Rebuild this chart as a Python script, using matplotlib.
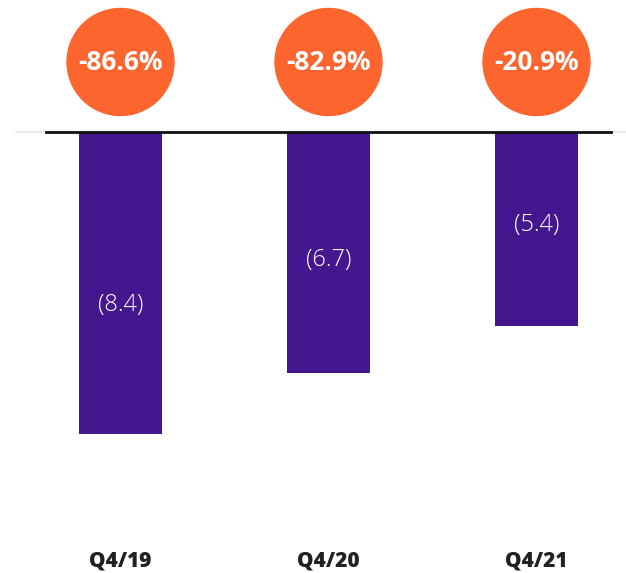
import matplotlib
matplotlib.use("Agg")
import matplotlib.pyplot as plt
from matplotlib.patches import Ellipse

categories = ["Q4/19", "Q4/20", "Q4/21"]
values = [-8.4, -6.7, -5.4]
value_labels = ["(8.4)", "(6.7)", "(5.4)"]
changes = ["-86.6%", "-82.9%", "-20.9%"]
label_y = [-4.8, -3.55, -2.58]

BAR_COLOR = "#45178F"
BADGE_COLOR = "#FC652E"

W, H = 626, 573
fig = plt.figure(figsize=(W / 100, H / 100), dpi=100)
ax = fig.add_axes([0, 0, 1, 1])

# pixel-derived scale: 208 px per category, 36 px per unit
px_x, px_y = 208.0, 36.0
x0_px, y0_px = 120.5, 132.0
ax.set_xlim(-x0_px / px_x, (W - x0_px) / px_x)
ax.set_ylim(-(H - y0_px) / px_y, y0_px / px_y)
ax.axis("off")

x = list(range(len(categories)))
ax.bar(x, values, width=83 / px_x, color=BAR_COLOR, zorder=2)

# baseline
ax.plot([(16 - x0_px) / px_x, (W - x0_px) / px_x], [0, 0], color="#e6e6e6", lw=1.2, zorder=1)
ax.plot([(46 - x0_px) / px_x, (611 - x0_px) / px_x], [0, 0], color="#111111", lw=2, zorder=3)

r = 53.5
cy = (y0_px - 62) / px_y
for xi, txt in zip(x, changes):
    ax.add_patch(Ellipse((xi, cy), 2 * r / px_x, 2 * r / px_y, color=BADGE_COLOR, zorder=2))
    ax.text(xi, cy, txt, ha="center", va="center", color="white",
            fontsize=19, fontweight="bold", family="Open Sans", zorder=4)

for xi, ly, txt in zip(x, label_y, value_labels):
    ax.text(xi, ly, txt, ha="center", va="center", color="white",
            fontsize=17, fontweight="light", family="Open Sans", zorder=4)

cat_y = -(561 - y0_px) / px_y
for xi, txt in zip(x, categories):
    ax.text(xi, cat_y, txt, ha="center", va="center", color="#222222",
            fontsize=15, fontweight="heavy", family="Open Sans")

fig.savefig("out.png", dpi=100)
